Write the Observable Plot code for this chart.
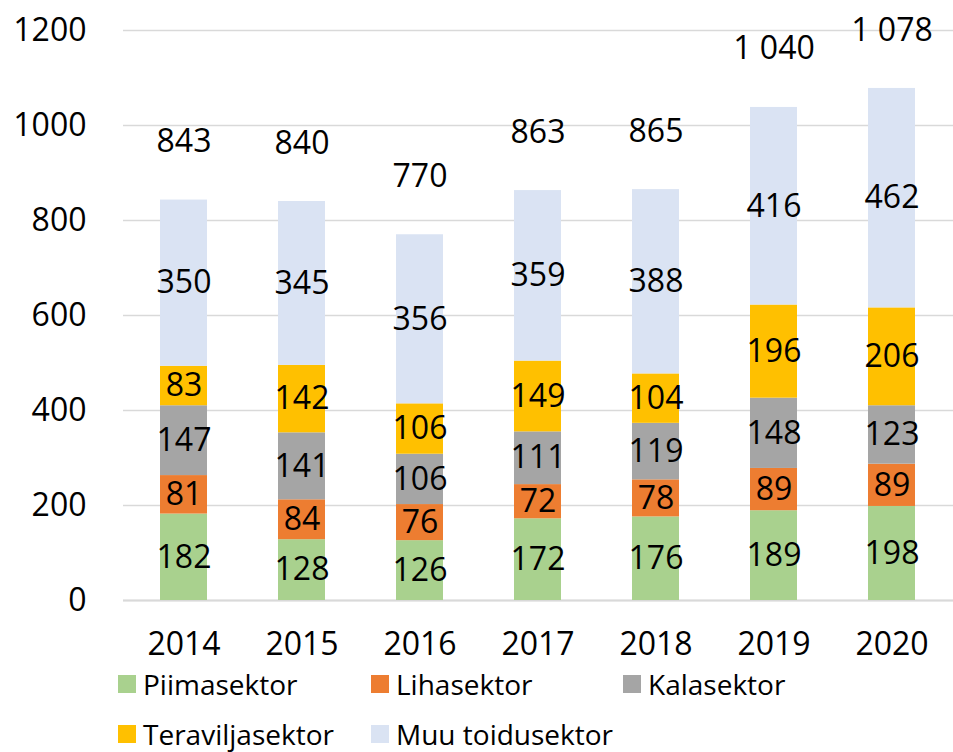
<!DOCTYPE html>
<html>
<head>
<meta charset="utf-8">
<script src="https://cdn.jsdelivr.net/npm/d3@7"></script>
<script src="https://cdn.jsdelivr.net/npm/@observablehq/plot@0.6"></script>
<style>
  body { margin: 0; background: #fff; font-family: "Open Sans", sans-serif; }
  #wrap { position: relative; width: 953px; height: 752px; overflow: hidden; }
  #legend { position: absolute; left: 118px; top: 665px; display: grid;
    grid-template-columns: 253px 252px 252px; grid-auto-rows: 38px; row-gap: 12px;
    font-size: 28px; color: #000; }
  .item { display: flex; align-items: center; white-space: nowrap; }
  .sw { width: 18px; height: 18px; margin-right: 7px; flex: none; }
</style>
</head>
<body>
<div id="wrap">
  <div id="chart"></div>
  <div id="legend"></div>
</div>
<script>
const years = ["2014", "2015", "2016", "2017", "2018", "2019", "2020"];
const sectors = ["Piimasektor", "Lihasektor", "Kalasektor", "Teraviljasektor", "Muu toidusektor"];
const colors = ["#A9D18E", "#ED7D31", "#A5A5A5", "#FFC000", "#DAE3F3"];
const piima = [182, 128, 126, 172, 176, 189, 198];
const liha = [81, 84, 76, 72, 78, 89, 89];
const kala = [147, 141, 106, 111, 119, 148, 123];
const teravili = [83, 142, 106, 149, 104, 196, 206];
const muu = [350, 345, 356, 359, 388, 416, 462];
const totals = [843, 840, 770, 863, 865, 1040, 1078];
const yTicks = [0, 200, 400, 600, 800, 1000, 1200];

const series = [piima, liha, kala, teravili, muu];
const data = [];
sectors.forEach((s, i) => {
  years.forEach((y, j) => data.push({ year: y, sector: s, value: series[i][j] }));
});
const totalData = years.map((y, j) => ({ year: y, total: totals[j] }));
const fmtTotal = d3.formatLocale({ decimal: ",", thousands: " ", grouping: [3], currency: ["", ""] }).format(",");

const chart = Plot.plot({
  width: 953,
  height: 665,
  marginLeft: 123,
  marginRight: 0,
  marginTop: 30,
  marginBottom: 65,
  style: { fontFamily: "Open Sans, sans-serif", fontSize: "32px", color: "#000", background: "#fff" },
  x: { domain: years, paddingInner: 0.6, paddingOuter: 0.3, label: null },
  y: { domain: [0, 1200], label: null },
  color: { domain: sectors, range: colors },
  marks: [
    Plot.gridY(yTicks, { stroke: "#D9D9D9", strokeOpacity: 1, strokeWidth: 1.5 }),
    Plot.ruleY([0], { stroke: "#D9D9D9", strokeWidth: 2 }),
    Plot.barY(data, { x: "year", y: "value", fill: "sector" }),
    Plot.text(data, Plot.stackY({ x: "year", y: "value", text: d => String(d.value), fill: "#000", fontSize: 32 })),
    Plot.text(totalData, { x: "year", y: "total", text: d => fmtTotal(d.total), dy: -58, fill: "#000", fontSize: 32 }),
    Plot.axisY(yTicks, { tickSize: 0, tickPadding: 37, fontSize: 32, tickFormat: d => String(d), label: null }),
    Plot.axisX({ tickSize: 0, tickPadding: 32, fontSize: 32, label: null })
  ]
});
document.getElementById("chart").appendChild(chart);

const legend = document.getElementById("legend");
sectors.forEach((s, i) => {
  const item = document.createElement("div");
  item.className = "item";
  const sw = document.createElement("span");
  sw.className = "sw";
  sw.style.background = colors[i];
  const t = document.createElement("span");
  t.textContent = s;
  item.appendChild(sw);
  item.appendChild(t);
  legend.appendChild(item);
});
</script>
</body>
</html>
